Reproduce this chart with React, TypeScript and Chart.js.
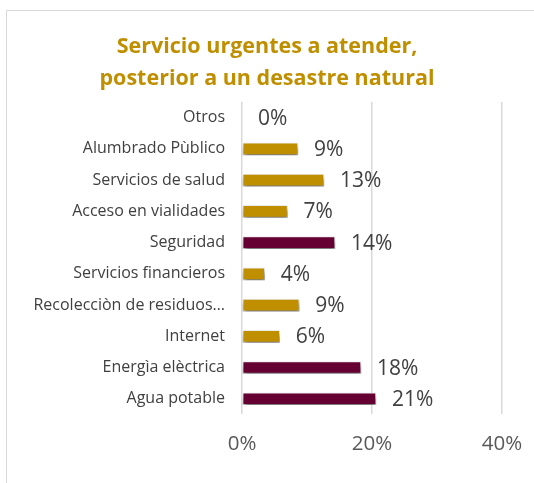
import React, { useEffect, useRef } from "react";
import { Chart, registerables } from "chart.js";

Chart.register(...registerables);

const categories = [
  "Otros",
  "Alumbrado Pùblico",
  "Servicios de salud",
  "Acceso en vialidades",
  "Seguridad",
  "Servicios financieros",
  "Recolecciòn de residuos…",
  "Internet",
  "Energìa elèctrica",
  "Agua potable",
];
const values = [0, 8.6, 12.6, 7.0, 14.3, 3.5, 8.8, 5.8, 18.3, 20.6];
const valueLabels = ["0%", "9%", "13%", "7%", "14%", "4%", "9%", "6%", "18%", "21%"];
const highlight = [false, false, false, false, true, false, false, false, true, true];
const titleLines = ["Servicio urgentes a atender,", "posterior a un desastre natural"];
const xMin = 0;
const xMax = 40;
const xStep = 20;

const GOLD = "#BF8F00";
const MAROON = "#660033";

const shadowPlugin = {
  id: "barShadow",
  beforeDatasetsDraw(chart: any) {
    const ctx = chart.ctx;
    ctx.save();
    ctx.shadowColor = "rgba(0,0,0,0.5)";
    ctx.shadowBlur = 4;
    ctx.shadowOffsetX = 1;
    ctx.shadowOffsetY = 4;
  },
  afterDatasetsDraw(chart: any) {
    chart.ctx.restore();
  },
};

const valueLabelPlugin = {
  id: "valueLabels",
  afterDatasetsDraw(chart: any) {
    const ctx = chart.ctx;
    const meta = chart.getDatasetMeta(0);
    ctx.save();
    ctx.font = "21px 'Open Sans', sans-serif";
    ctx.fillStyle = "#404040";
    ctx.textAlign = "left";
    ctx.textBaseline = "middle";
    meta.data.forEach((bar: any, i: number) => {
      ctx.fillText(valueLabels[i], bar.x + 16, bar.y + 1);
    });
    ctx.restore();
  },
};

export default function App() {
  const ref = useRef<HTMLCanvasElement | null>(null);
  useEffect(() => {
    if (!ref.current) return;
    const chart = new Chart(ref.current, {
      type: "bar",
      data: {
        labels: categories,
        datasets: [
          {
            data: values,
            backgroundColor: highlight.map((h) => (h ? MAROON : GOLD)),
            borderColor: "#ededed",
            borderWidth: 1,
            borderSkipped: false,
            barThickness: 12,
          },
        ],
      },
      options: {
        indexAxis: "y",
        animation: false,
        responsive: false,
        maintainAspectRatio: false,
        layout: { padding: { left: 0, right: 0, top: 0, bottom: 10 } },
        plugins: {
          legend: { display: false },
          tooltip: { enabled: false },
          title: {
            display: true,
            text: titleLines,
            color: GOLD,
            font: { family: "'Open Sans', sans-serif", size: 21.5, weight: "bold", lineHeight: "32px" },
            padding: { top: 31, bottom: 7 },
          },
        },
        scales: {
          x: {
            min: xMin,
            max: xMax,
            afterFit(scale: any) {
              scale.paddingRight = 32;
              scale.paddingLeft = 0;
            },
            ticks: {
              stepSize: xStep,
              padding: 17,
              color: "#595959",
              font: { family: "'Open Sans', sans-serif", size: 20.5 },
              callback: (v: any) => v + "%",
            },
            grid: { color: "#d9d9d9", lineWidth: 1.5, drawTicks: false },
            border: { display: false },
          },
          y: {
            afterFit(scale: any) {
              scale.width = 242;
            },
            ticks: {
              padding: 9,
              color: "#404040",
              font: { family: "'Open Sans', sans-serif", size: 16 },
            },
            grid: { display: false },
            border: { display: false },
          },
        },
      },
      plugins: [shadowPlugin, valueLabelPlugin],
    });
    return () => chart.destroy();
  }, []);

  return (
    <div style={{ position: "fixed", left: 0, top: 0, width: 534, height: 483, background: "#fff" }}>
      <div
        style={{
          position: "absolute",
          left: 6,
          top: 10,
          width: 560,
          height: 500,
          border: "1.5px solid #d9d9d9",
        }}
      />
      <canvas ref={ref} width={534} height={483} style={{ position: "absolute", left: 0, top: 0 }} />
    </div>
  );
}
